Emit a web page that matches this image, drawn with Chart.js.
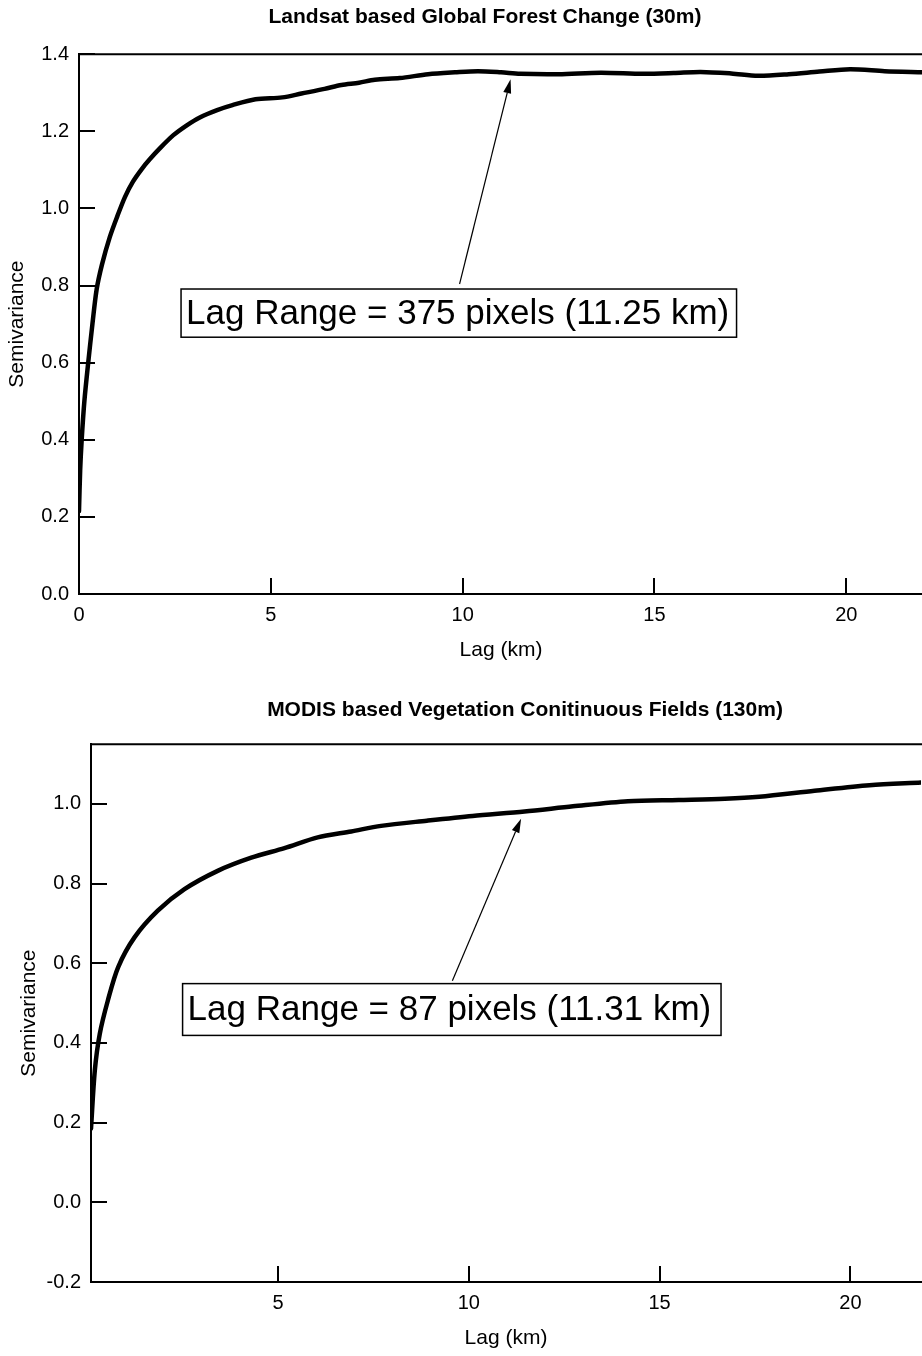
<!DOCTYPE html>
<html><head><meta charset="utf-8">
<script src="https://cdn.jsdelivr.net/npm/chart.js@4.4.1/dist/chart.umd.min.js"></script>
<style>
html,body{margin:0;padding:0;background:#fff;overflow:hidden;width:922px;height:1356px;position:relative;}
canvas{position:absolute;left:0;}
</style></head><body>
<canvas id="c1" width="970" height="680" style="top:0"></canvas>
<canvas id="c2" width="1050" height="676" style="top:680px"></canvas>
<script>
// ---- Data: Landsat (30 m) ----
const topLag  = [0.0, 0.03, 0.07, 0.14, 0.24, 0.35, 0.46, 0.6, 0.8, 1.0, 1.2, 1.41, 1.65, 1.85, 2.1, 2.46, 2.8, 3.15, 3.6, 4.0, 4.6, 5.3, 5.8, 6.4, 6.84, 7.3, 7.71, 8.36, 9.1, 9.8, 10.4, 11.0, 11.5, 12.5, 13.6, 14.7, 15.5, 16.2, 17.0, 17.7, 18.5, 19.3, 20.1, 21.0, 22.0];
const topSemi = [0.215, 0.32, 0.40, 0.50, 0.60, 0.70, 0.79, 0.855, 0.925, 0.98, 1.03, 1.07, 1.104, 1.128, 1.155, 1.19, 1.215, 1.236, 1.255, 1.268, 1.283, 1.288, 1.298, 1.31, 1.32, 1.326, 1.334, 1.338, 1.348, 1.353, 1.356, 1.353, 1.349, 1.348, 1.352, 1.349, 1.351, 1.354, 1.35, 1.344, 1.348, 1.355, 1.361, 1.356, 1.353];
const topXTicks = [0, 5, 10, 15, 20];
const topYTicks = [0.0, 0.2, 0.4, 0.6, 0.8, 1.0, 1.2, 1.4];
const topTitle = 'Landsat based Global Forest Change (30m)';
const topNote = 'Lag Range = 375 pixels (11.25 km)';

// ---- Data: MODIS VCF (130 m) ----
const botLag  = [0.1, 0.2, 0.33, 0.54, 0.81, 1.24, 1.85, 2.55, 3.42, 4.3, 5.17, 6.04, 6.92, 7.7, 8.9, 10.1, 11.46, 12.73, 14.17, 15.5, 16.71, 17.61, 19.06, 20.5, 21.85];
const botSemi = [0.185, 0.331, 0.423, 0.506, 0.59, 0.665, 0.732, 0.786, 0.832, 0.865, 0.889, 0.916, 0.931, 0.945, 0.958, 0.97, 0.981, 0.994, 1.007, 1.01, 1.013, 1.018, 1.033, 1.047, 1.054];
const botXTicks = [5, 10, 15, 20];
const botYTicks = [-0.2, 0.0, 0.2, 0.4, 0.6, 0.8, 1.0];
const botTitle = 'MODIS based Vegetation Conitinuous Fields (130m)';
const botNote = 'Lag Range = 87 pixels (11.31 km)';

const FAM = '"Liberation Sans", Arial, sans-serif';

const framePlugin = {
  id: 'frame',
  afterDatasetsDraw(chart, args, o) {
    const {ctx, chartArea: a, scales: {x, y}} = chart;
    ctx.save();
    ctx.strokeStyle = '#000';
    ctx.lineWidth = 2;
    ctx.beginPath(); ctx.moveTo(a.left - 1, a.top); ctx.lineTo(a.right + 5, a.top); ctx.stroke();
    y.ticks.forEach(t => {
      const py = Math.round(y.getPixelForValue(t.value));
      ctx.beginPath(); ctx.moveTo(a.left, py); ctx.lineTo(a.left + 16, py); ctx.stroke();
    });
    x.ticks.forEach(t => {
      const px = Math.round(x.getPixelForValue(t.value));
      ctx.beginPath(); ctx.moveTo(px, a.bottom); ctx.lineTo(px, a.bottom - 16); ctx.stroke();
    });
    // annotation box
    const n = o.note;
    const bx1 = x.getPixelForValue(n.x1), bx2 = x.getPixelForValue(n.x2);
    const by1 = y.getPixelForValue(n.y1), by2 = y.getPixelForValue(n.y2);
    ctx.fillStyle = '#fff';
    ctx.fillRect(bx1, by1, bx2 - bx1, by2 - by1);
    ctx.lineWidth = 1.5;
    ctx.strokeRect(bx1, by1, bx2 - bx1, by2 - by1);
    ctx.fillStyle = '#000';
    ctx.font = '35px ' + FAM;
    ctx.textBaseline = 'middle';
    ctx.textAlign = 'left';
    ctx.fillText(n.text, bx1 + 5, (by1 + by2) / 2 + 1);
    // arrow
    const ax0 = x.getPixelForValue(n.ax0), ay0 = y.getPixelForValue(n.ay0);
    const ax1 = x.getPixelForValue(n.ax1), ay1 = y.getPixelForValue(n.ay1);
    const ang = Math.atan2(ay1 - ay0, ax1 - ax0);
    const L = 14, W = 4;
    ctx.lineWidth = 1.2;
    ctx.beginPath(); ctx.moveTo(ax0, ay0);
    ctx.lineTo(ax1 - L * Math.cos(ang), ay1 - L * Math.sin(ang)); ctx.stroke();
    ctx.beginPath();
    ctx.moveTo(ax1, ay1);
    ctx.lineTo(ax1 - L * Math.cos(ang) + W * Math.sin(ang), ay1 - L * Math.sin(ang) - W * Math.cos(ang));
    ctx.lineTo(ax1 - L * Math.cos(ang) - W * Math.sin(ang), ay1 - L * Math.sin(ang) + W * Math.cos(ang));
    ctx.closePath(); ctx.fill();
    ctx.restore();
  }
};

function makeChart(id, cfg) {
  return new Chart(document.getElementById(id), {
    type: 'scatter',
    data: { datasets: [{
      data: cfg.lag.map((v, i) => ({x: v, y: cfg.semi[i]})),
      showLine: true, borderColor: '#000', borderWidth: 4.5, pointRadius: 0,
      tension: 0.3, fill: false, borderCapStyle: 'round', borderJoinStyle: 'round'
    }]},
    options: {
      responsive: false, animation: false, devicePixelRatio: 1,
      layout: { padding: 0 },
      plugins: {
        legend: { display: false }, tooltip: { enabled: false },
        title: { display: true, text: cfg.title, color: '#000',
          font: { family: FAM, size: 21, weight: 'bold' }, padding: cfg.titlePad },
        frame: { note: cfg.note }
      },
      scales: {
        x: {
          type: 'linear', min: cfg.xmin, max: cfg.xmax,
          afterBuildTicks: s => { s.ticks = cfg.xTicks.map(v => ({value: v})); },
          afterFit: s => { s.height = cfg.xH; },
          grid: { display: false, drawTicks: false },
          border: { display: true, color: '#000', width: 2 },
          ticks: { color: '#000', font: { family: FAM, size: 20 }, padding: 9, maxRotation: 0, autoSkip: false,
            callback: v => String(v) },
          title: { display: true, text: 'Lag (km)', color: '#000', font: { family: FAM, size: 21 },
            padding: { top: 0, bottom: cfg.xTitlePad } }
        },
        y: {
          min: cfg.ymin, max: cfg.ymax,
          afterBuildTicks: s => { s.ticks = cfg.yTicks.map(v => ({value: v})); },
          afterFit: s => { s.width = cfg.yW; },
          grid: { display: false, drawTicks: false },
          border: { display: true, color: '#000', width: 2 },
          ticks: { color: '#000', font: { family: FAM, size: 20 }, padding: 10, autoSkip: false,
            callback: v => Number(v).toFixed(1) },
          title: { display: true, text: 'Semivariance', color: '#000', font: { family: FAM, size: 21 },
            padding: { top: cfg.yTitlePad, bottom: 0 } }
        },
        yRight: {
          type: 'linear', position: 'right', min: 0, max: 1,
          afterFit: s => { s.width = cfg.padRight; },
          grid: { display: false, drawTicks: false },
          border: { display: false },
          ticks: { display: false }
        }
      }
    },
    plugins: [framePlugin]
  });
}

makeChart('c1', {
  lag: topLag, semi: topSemi, title: topTitle, xTicks: topXTicks, yTicks: topYTicks,
  xmin: 0, xmax: 22, ymin: 0, ymax: 1.4,
  padRight: 47, titlePad: { top: 5, bottom: 24 }, xH: 86, yW: 79, xTitlePad: 17, yTitlePad: 5,
  note: { text: topNote, x1: 2.66, x2: 17.14, y1: 0.791, y2: 0.666, ax0: 9.92, ay0: 0.804, ax1: 11.25, ay1: 1.335 }
});
makeChart('c2', {
  lag: botLag, semi: botSemi, title: botTitle, xTicks: botXTicks, yTicks: botYTicks,
  xmin: 0.1, xmax: 21.85, ymin: -0.2, ymax: 1.15,
  padRight: 129, titlePad: { top: 18, bottom: 21 }, xH: 74, yW: 91, xTitlePad: 5, yTitlePad: 17,
  note: { text: botNote, x1: 2.5, x2: 16.61, y1: 0.549, y2: 0.419, ax0: 9.57, ay0: 0.556, ax1: 11.37, ay1: 0.963 }
});
</script>
</body></html>
